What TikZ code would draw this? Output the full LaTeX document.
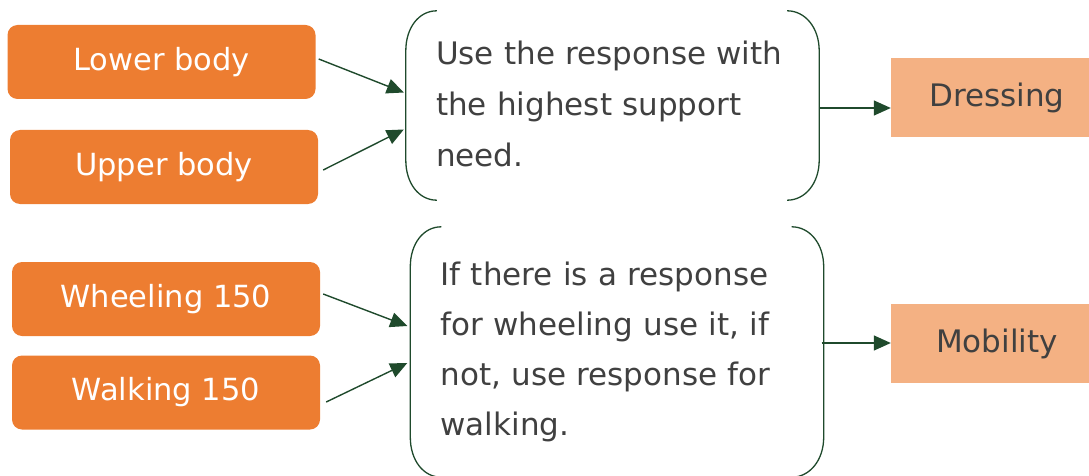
\documentclass[tikz,border=0pt]{standalone}
\usepackage{fontspec}
\setmainfont{DejaVu Sans}
\usetikzlibrary{arrows.meta,positioning,calc}
\definecolor{partorange}{HTML}{ED7D31}
\definecolor{areaorange}{HTML}{F4B183}
\definecolor{rulegreen}{HTML}{1F4A2C}
\definecolor{ink}{HTML}{404040}
\tikzset{
  part/.style={fill=partorange, rounded corners=10pt, minimum width=308pt, minimum height=74pt, text=white, font=\fontsize{30.5}{36}\selectfont},
  area/.style={fill=areaorange, minimum width=212pt, minimum height=79pt, text=ink, font=\fontsize{31}{36}\selectfont},
  rulebox/.style={inner xsep=30pt, inner ysep=0pt, text width=353pt, align=left, text=ink},
  flow/.style={rulegreen, line width=1.4pt, -{Triangle[length=17pt,width=15pt]}},
  brace/.style={rulegreen, line width=1.3pt},
}

\begin{document}
\begin{tikzpicture}[x=1pt,y=-1pt]
  \useasboundingbox (0,0) rectangle (1089,476);
  \clip (0,0) rectangle (1089,476);

  % Dressing
  \node[part] (lower) at (161.5,62) {Lower body};
  \node[part] (upper) at (164,167) {Upper body};
  \node[rulebox, minimum height=189pt, font=\fontsize{31}{51}\selectfont] (rule1) at (612.5,105.5)
    {\raisebox{3pt}{Use the response with}\\\raisebox{3pt}{the highest support}\\\raisebox{3pt}{need.}};
  \node[area] (dress) at (997,97.5) {Dressing};

  \draw[flow] ([xshift=3pt,yshift=3pt]lower.east) -- ([xshift=-2pt,yshift=13pt]rule1.west);
  \draw[flow] ([xshift=5pt,yshift=-3pt]upper.east) -- ([xshift=-2pt,yshift=-24pt]rule1.west);
  \draw[flow] ([yshift=-2.5pt]rule1.east) coordinate (out1) -- (out1 -| dress.west);

  % Mobility
  \node[part] (wheel) at (166,299) {Wheeling 150};
  \node[part] (walk) at (166,392.5) {Walking 150};
  \node[rulebox, minimum height=250pt, font=\fontsize{31}{50}\selectfont] (rule2) at (617,352)
    {If there is a response\\for wheeling use it, if\\not, use response for\\walking.};
  \node[area] (mobil) at (997,343.5) {Mobility};

  \draw[flow] ([xshift=3pt,yshift=5pt]wheel.east) -- ([xshift=-3pt,yshift=26pt]rule2.west);
  \draw[flow] ([xshift=6pt,yshift=-9.5pt]walk.east) -- ([xshift=-3pt,yshift=-11pt]rule2.west);
  \draw[flow] ([xshift=-2pt,yshift=9pt]rule2.east) coordinate (out2) -- (out2 -| mobil.west);

  % brackets round the rules
  \foreach \r in {rule1,rule2} {
    \draw[brace] ([xshift=31pt]\r.north west) .. controls ([xshift=13pt]\r.north west) and ([yshift=-17pt]\r.north west) .. ([yshift=-40pt]\r.north west)
      -- ([yshift=40pt]\r.south west) .. controls ([yshift=17pt]\r.south west) and ([xshift=13pt]\r.south west) .. ([xshift=31pt]\r.south west);
    \draw[brace] ([xshift=-32pt]\r.north east) .. controls ([xshift=-14pt]\r.north east) and ([yshift=-17pt]\r.north east) .. ([yshift=-40pt]\r.north east)
      -- ([yshift=40pt]\r.south east) .. controls ([yshift=17pt]\r.south east) and ([xshift=-14pt]\r.south east) .. ([xshift=-32pt]\r.south east);
  }
\end{tikzpicture}
\end{document}
